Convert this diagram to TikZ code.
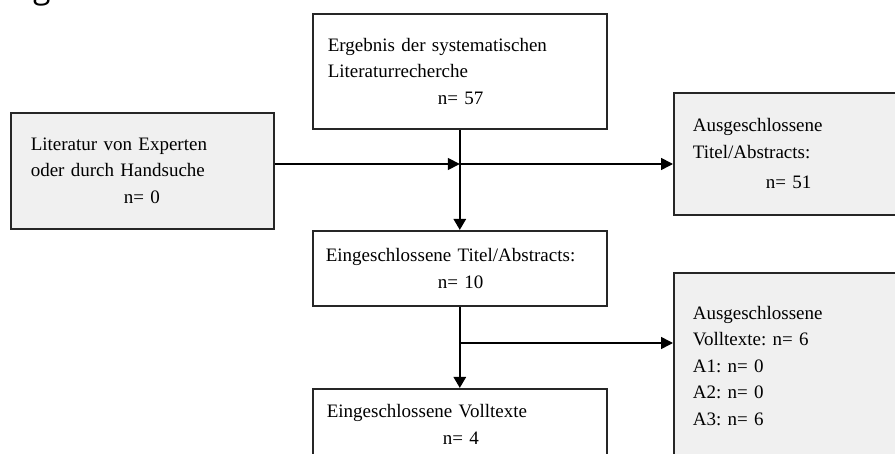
\documentclass[tikz,border=0pt]{standalone}
\usepackage{fontspec}
\setmainfont{Liberation Serif}
\newfontfamily\headfont{Open Sans}
\usetikzlibrary{arrows.meta}
\frenchspacing

\begin{document}
\begin{tikzpicture}[x=1pt, y=-1pt,
  box/.style={rectangle, draw=black!85, line width=1.6pt, fill=white, anchor=north west,
    inner xsep=15pt, inner ysep=0pt, align=left, font=\fontsize{19pt}{26.5pt}\selectfont},
  grey box/.style={box, fill=grau_hell},
  flow/.style={line width=2.6pt, -{Triangle[length=11pt,width=12pt]}},
  side/.style={line width=1.6pt, -{Triangle[length=12pt,width=12pt]}}]

    \definecolor{grau_hell}{HTML}{F0F0F0}

  \useasboundingbox (0,0) rectangle (895,454);

  % cut off heading above the chart

  \node[anchor=base west, inner sep=0pt, font=\headfont\fontsize{32pt}{32pt}\selectfont] (kopf) at (33,-1) {g};

  % boxes of the search

  \node[box, text width=264pt, minimum height=115pt] (recherche) at (312,13)
    {Ergebnis der systematischen\\Literaturrecherche\\\hspace*{110pt}n= 57};
  \node[grey box, text width=223pt, minimum height=116pt, inner xsep=20pt] (handsuche) at (10,112)
    {Literatur von Experten\\oder durch Handsuche\\\hspace*{93pt}n= 0};
  \node[grey box, text width=222pt, minimum height=122pt, inner xsep=19pt] (exTitel) at (673,92)
    {Ausgeschlossene\\Titel/Abstracts:\\[4pt]\hspace*{73pt}n= 51};

  % boxes after screening

  \node[box, text width=268pt, minimum height=75pt, inner xsep=13pt] (inTitel) at (312,230)
    {Eingeschlossene Titel/Abstracts:\\\hspace*{112pt}n= 10};
  \node[grey box, text width=222pt, minimum height=186pt, inner xsep=19pt] (exVoll) at (673,272)
    {Ausgeschlossene\\Volltexte: n= 6\\A1: n= 0\\A2: n= 0\\A3: n= 6};
  \node[box, text width=266pt, minimum height=71pt, inner xsep=14pt] (inVoll) at (312,388)
    {Eingeschlossene Volltexte\\\hspace*{116pt}n= 4};

  % connections

  \coordinate (knoten1) at (recherche.south |- 0,164);
  \coordinate (knoten2) at (inTitel.south |- 0,343);

  \draw[flow] (recherche.south) -- (inTitel.north);
  \draw[side] (handsuche.east |- knoten1) -- (knoten1);
  \draw[side] (knoten1) -- (exTitel.west |- knoten1);
  \draw[flow] (inTitel.south) -- (inVoll.north);
  \draw[side] (knoten2) -- (exVoll.west |- knoten2);

\end{tikzpicture}
\end{document}
